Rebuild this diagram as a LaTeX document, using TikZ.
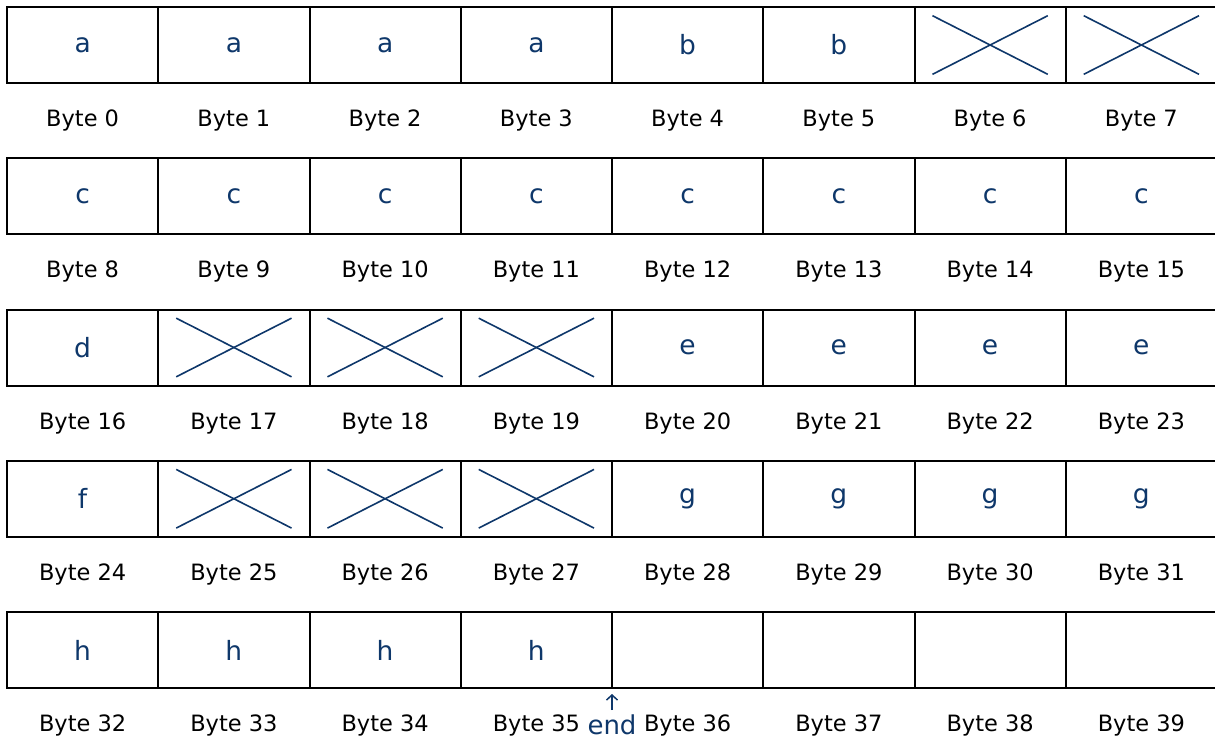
\documentclass[tikz,border=0pt]{standalone}
\usepackage{fontspec}
\setmainfont{DejaVu Sans}
\usetikzlibrary{calc,arrows.meta}
\definecolor{navy}{RGB}{14,55,106}
\begin{document}
\begin{tikzpicture}[x=1pt,y=-1pt,
  cell/.style={draw=black,line width=2pt,minimum width=151.25pt,minimum height=76pt,
    inner sep=0pt,outer sep=0pt,text=navy,font=\fontsize{26.5}{30}\selectfont},
  blab/.style={anchor=base,font=\fontsize{22.5}{26}\selectfont,text=black,inner sep=0pt},
  xline/.style={draw=navy,line width=1.6pt},
  endlab/.style={anchor=base,font=\fontsize{26}{30}\selectfont,text=navy,inner sep=0pt},
  endarrow/.style={draw=navy,line width=1.5pt,-{Straight Barb[length=5pt,width=11pt]}}]
\useasboundingbox (0,0) rectangle (1215,740);
\def\X{X}
\def\E{E}
\foreach \r/\lst in {0/{a,a,a,a,b,b,X,X},1/{c,c,c,c,c,c,c,c},2/{d,X,X,X,e,e,e,e},3/{f,X,X,X,g,g,g,g},4/{h,h,h,h,E,E,E,E}}{
  \foreach \t [count=\c from 0] in \lst {
    \pgfmathsetmacro\cx{7+151.25*(\c+0.5)}
    \pgfmathsetmacro\cy{7+151.25*\r+38}
    \pgfmathsetmacro\ly{7+151.25*\r+119.5}
    \pgfmathtruncatemacro\n{8*\r+\c}
    \edef\cur{\t}
    \ifx\cur\X
      \node[cell] (c-\r-\c) at (\cx,\cy) {};
      \draw[xline] ($(c-\r-\c.north west)+(18,8.7)$) -- ($(c-\r-\c.south east)+(-18,-8.7)$);
      \draw[xline] ($(c-\r-\c.south west)+(18,-8.7)$) -- ($(c-\r-\c.north east)+(-18,8.7)$);
    \else\ifx\cur\E
      \node[cell] (c-\r-\c) at (\cx,\cy) {};
    \else
      \node[cell] (c-\r-\c) at (\cx,\cy) {\t};
    \fi\fi
    \node[blab] (l-\n) at (\cx,\ly) {Byte \n};
  }
}
\node[endlab] (endlbl) at (612,734) {end};
\coordinate (endtail) at (612,710);
\coordinate (endtip) at (612,694);
\draw[endarrow] (endtail) -- (endtip);
\end{tikzpicture}
\end{document}
